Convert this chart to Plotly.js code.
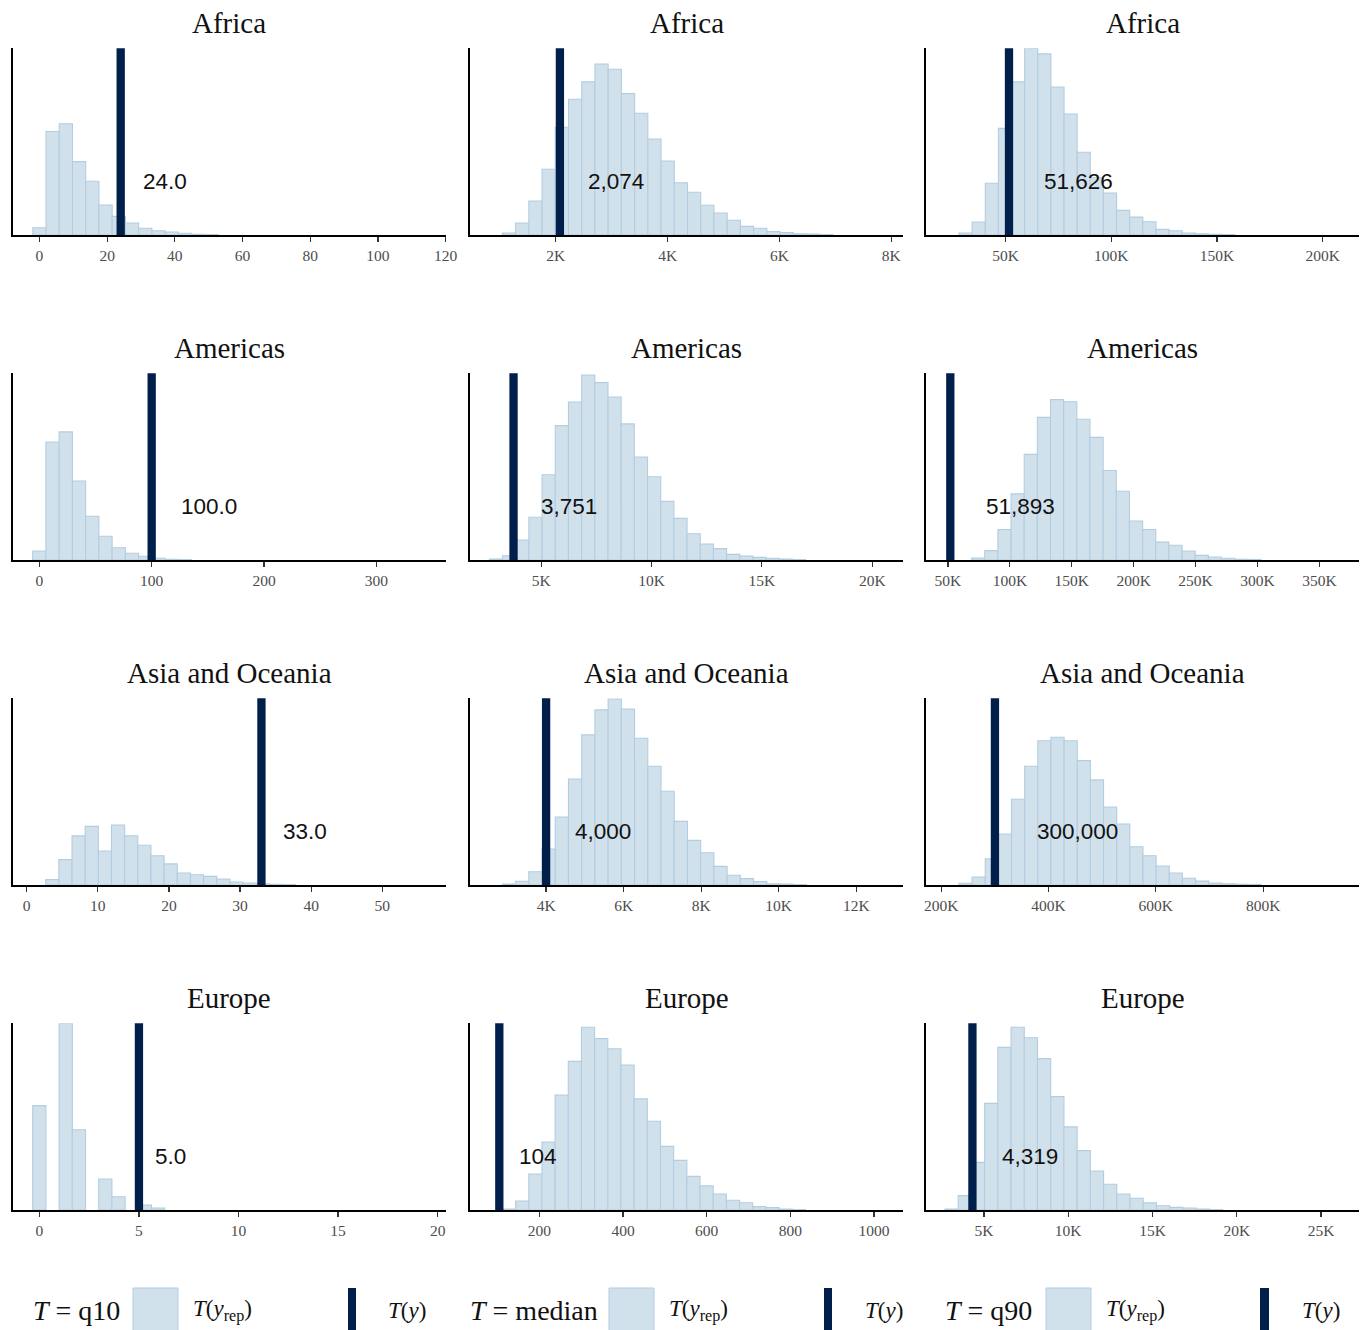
<!DOCTYPE html>
<html>
<head>
<meta charset="utf-8">
<script src="https://cdn.plot.ly/plotly-3.0.1.min.js"></script>
<style>html,body{margin:0;padding:0;background:#fff;}</style>
</head>
<body>
<div id="chart" style="width:1366px;height:1330px;"></div>
<script>
// ---------------- DATA ----------------
const regions = ["Africa", "Americas", "Asia and Oceania", "Europe"];
const statistics = ["q10", "median", "q90"];

// observed statistic T(y) per panel (row-major: region x statistic)
const obsValues = [24, 2074, 51626, 100, 3751, 51893, 33, 4000, 300000, 5, 104, 4319];
const obsLabels = ["24.0", "2,074", "51,626", "100.0", "3,751", "51,893", "33.0", "4,000", "300,000", "5.0", "104", "4,319"];

// histogram bin definitions (start of first bin, bin width), 30 bins each
const binStart = [-1.97, 1045, 27990, -5.93, 2656, 69085, 2.67, 2872, 232887, -0.335, 111.4, 2690];
const binWidth = [3.91, 236.5, 6210, 11.79, 597, 10625, 1.85, 341, 24510, 0.663, 31.5, 784];

// relative bar heights of T(y_rep) (counts, % of the tallest bar scale)
const africaQ10 = [3.9, 55.4, 59.6, 39.3, 28.8, 16.1, 10.0, 6.4, 3.6, 2.3, 1.6, 0.9, 0.4, 0.3, 0, 0, 0, 0, 0, 0, 0, 0, 0, 0, 0, 0, 0, 0, 0, 0];
const africaMedian = [1.1, 6.4, 18.2, 35.2, 57.7, 72.7, 82.0, 91.6, 88.8, 75.7, 65.2, 51.4, 39.6, 28.0, 22.9, 15.9, 11.8, 7.9, 4.6, 3.6, 1.8, 1.25, 0.7, 0.5, 0.3, 0, 0, 0, 0, 0];
const africaQ90 = [1.1, 7.0, 27.7, 57.1, 82.0, 100, 97.0, 79.3, 64.8, 44.3, 30.7, 22.5, 13.2, 9.6, 7.1, 3.0, 2.3, 1.1, 0.7, 0.4, 0.3, 0, 0, 0, 0, 0, 0, 0, 0, 0];
const americasQ10 = [4.8, 63.2, 68.6, 42.3, 23.4, 12.7, 6.6, 3.6, 2.0, 0.9, 0.4, 0.3, 0, 0, 0, 0, 0, 0, 0, 0, 0, 0, 0, 0, 0, 0, 0, 0, 0, 0];
const americasMedian = [0.5, 2.3, 10.7, 22.9, 45.7, 72.0, 84.6, 99.1, 95.0, 87.3, 72.9, 55.2, 44.6, 31.4, 22.3, 14.1, 8.6, 6.1, 3.0, 2.1, 1.4, 0.9, 0.5, 0.3, 0, 0, 0, 0, 0, 0];
const americasQ90 = [1.1, 5.0, 16.3, 35.4, 56.6, 76.4, 85.9, 84.8, 75.4, 65.7, 47.9, 36.8, 20.9, 16.3, 9.6, 7.9, 4.8, 2.5, 1.6, 0.9, 0.4, 0.3, 0, 0, 0, 0, 0, 0, 0, 0];
const asiaQ10 = [2.9, 13.6, 26.3, 31.4, 18.2, 32.1, 26.4, 21.3, 15.7, 11.3, 6.4, 5.5, 4.6, 3.2, 1.6, 1.1, 0.7, 0.4, 0.3, 0, 0, 0, 0, 0, 0, 0, 0, 0, 0, 0];
const asiaMedian = [0.5, 2.0, 7.1, 19.3, 36.4, 56.8, 80.4, 93.8, 99.6, 94.3, 78.6, 63.6, 50.2, 34.1, 23.9, 17.3, 10.0, 5.2, 3.4, 1.8, 0.7, 0.5, 0.3, 0, 0, 0, 0, 0, 0, 0];
const asiaQ90 = [0.9, 4.3, 14.1, 27.3, 45.9, 63.6, 77.3, 79.1, 77.3, 66.6, 56.3, 41.8, 32.7, 20.5, 15.7, 10.2, 6.4, 3.6, 2.1, 1.1, 0.7, 0.4, 0.3, 0, 0, 0, 0, 0, 0, 0];
const europeQ10 = [55.9, 0, 100, 43.0, 0, 16.6, 7.1, 0, 2.7, 1.1, 0, 0, 0, 0, 0, 0, 0, 0, 0, 0, 0, 0, 0, 0, 0, 0, 0, 0, 0, 0];
const europeMedian = [0.5, 4.8, 19.3, 36.4, 61.6, 79.6, 97.9, 91.8, 86.4, 77.7, 59.5, 47.5, 34.1, 26.6, 18.0, 12.9, 8.6, 5.2, 3.9, 1.8, 1.25, 0.5, 0.3, 0, 0, 0, 0, 0, 0, 0];
const europeQ90 = [0.5, 7.7, 25.5, 57.1, 87.1, 97.9, 92.3, 81.1, 60.7, 44.5, 31.8, 20.9, 13.8, 8.6, 6.3, 3.8, 2.3, 1.4, 1.1, 0.5, 0.3, 0, 0, 0, 0, 0, 0, 0, 0, 0];

const panelCounts = [africaQ10, africaMedian, africaQ90,
                     americasQ10, americasMedian, americasQ90,
                     asiaQ10, asiaMedian, asiaQ90,
                     europeQ10, europeMedian, europeQ90];

// tick values and labels per panel
const tickValues = [
  [0, 20, 40, 60, 80, 100, 120], [2000, 4000, 6000, 8000], [50000, 100000, 150000, 200000],
  [0, 100, 200, 300], [5000, 10000, 15000, 20000], [50000, 100000, 150000, 200000, 250000, 300000, 350000],
  [0, 10, 20, 30, 40, 50], [4000, 6000, 8000, 10000, 12000], [200000, 400000, 600000, 800000],
  [0, 5, 10, 15, 20], [200, 400, 600, 800, 1000], [5000, 10000, 15000, 20000, 25000]
];
const tickLabels = [
  ["0", "20", "40", "60", "80", "100", "120"], ["2K", "4K", "6K", "8K"], ["50K", "100K", "150K", "200K"],
  ["0", "100", "200", "300"], ["5K", "10K", "15K", "20K"], ["50K", "100K", "150K", "200K", "250K", "300K", "350K"],
  ["0", "10", "20", "30", "40", "50"], ["4K", "6K", "8K", "10K", "12K"], ["200K", "400K", "600K", "800K"],
  ["0", "5", "10", "15", "20"], ["200", "400", "600", "800", "1000"], ["5K", "10K", "15K", "20K", "25K"]
];

// ---------------- LAYOUT CONFIG ----------------
const W = 1366, H = 1330;
const colLeft = [12.7, 470, 926];
const panelW = 433.3;
const rowTop = [48.3, 373.3, 698.3, 1023.3];
const panelH = 186.7;
const xRanges = [
  [-7.9, 120.1], [466, 8215], [12370, 217330],
  [-23.7, 362], [1779, 21405], [32260, 382240],
  [-1.97, 58.95], [2037, 13214], [171457, 979350],
  [-1.34, 20.42], [33.9, 1070], [1565, 27266]
];
const labelXFrac = [0.3515, 0.337, 0.353, 0.453, 0.2285, 0.219, 0.6746, 0.307, 0.3485, 0.365, 0.157, 0.24];

const LIGHT = '#d1e1ec', LIGHT_HL = '#b3cde0', DARK_HL = '#011f4b';
const SERIF = '"Liberation Serif", "Times New Roman", serif';
const SANS = '"Liberation Sans", Arial, sans-serif';

const traces = [];
const layout = {
  width: W, height: H,
  margin: {l: 0, r: 0, t: 0, b: 0, pad: 0},
  paper_bgcolor: '#fff', plot_bgcolor: '#fff',
  showlegend: false,
  shapes: [], annotations: []
};

for (let r = 0; r < 4; r++) {
  for (let c = 0; c < 3; c++) {
    const i = r * 3 + c;
    const n = i + 1;
    const xid = n === 1 ? 'x' : 'x' + n;
    const yid = n === 1 ? 'y' : 'y' + n;
    const counts = panelCounts[i];
    const centers = counts.map((_, k) => binStart[i] + (k + 0.5) * binWidth[i]);
    const outline = counts.map(v => (v > 0 ? 1.1 : 0));
    traces.push({
      type: 'bar', x: centers, y: counts, width: binWidth[i],
      xaxis: xid, yaxis: yid,
      marker: {color: LIGHT, line: {color: LIGHT_HL, width: outline}},
      hoverinfo: 'skip'
    });
    const x0 = colLeft[c] / W, x1 = (colLeft[c] + panelW) / W;
    const y1 = 1 - rowTop[r] / H, y0 = 1 - (rowTop[r] + panelH) / H;
    layout[n === 1 ? 'xaxis' : 'xaxis' + n] = {
      domain: [x0, x1], anchor: yid, range: xRanges[i],
      showgrid: false, zeroline: false,
      showline: true, linecolor: '#000', linewidth: 2,
      ticks: 'outside', ticklen: 5, tickwidth: 1.2, tickcolor: '#333',
      tickmode: 'array', tickvals: tickValues[i], ticktext: tickLabels[i],
      tickfont: {family: SERIF, size: 15.5, color: '#4d4d4d'},
      fixedrange: true
    };
    layout[n === 1 ? 'yaxis' : 'yaxis' + n] = {
      domain: [y0, y1], anchor: xid, range: [0, 100],
      showgrid: false, zeroline: false, showticklabels: false, ticks: '',
      showline: true, linecolor: '#000', linewidth: 2,
      fixedrange: true
    };
    // observed statistic line
    layout.shapes.push({
      type: 'line', xref: xid, yref: yid + ' domain',
      x0: obsValues[i], x1: obsValues[i], y0: 0, y1: 1,
      line: {color: DARK_HL, width: 8.3}
    });
    // value label
    layout.annotations.push({
      xref: xid + ' domain', yref: yid + ' domain',
      x: labelXFrac[i], y: 0.284, xanchor: 'center', yanchor: 'middle',
      text: obsLabels[i], showarrow: false,
      font: {family: SANS, size: 22.5, color: '#111'}
    });
    // panel title
    layout.annotations.push({
      xref: 'paper', yref: 'paper',
      x: (x0 + x1) / 2, y: 1 - (rowTop[r] - 25.5) / H,
      xanchor: 'center', yanchor: 'middle',
      text: regions[r], showarrow: false,
      font: {family: SERIF, size: 29, color: '#111'}
    });
  }
}

// ---------------- bottom legends ----------------
const legendY = 1310;
const legTitleX = [31, 468, 943];
const legSquare = [[133, 178], [609, 654], [1046, 1091]];
const legRepX = [191, 667, 1104];
const legBar = [[348, 356], [824, 832], [1260, 1269]];
const legObsX = [386, 863, 1300];
for (let c = 0; c < 3; c++) {
  layout.annotations.push({
    xref: 'paper', yref: 'paper', x: legTitleX[c] / W, y: 1 - legendY / H,
    xanchor: 'left', yanchor: 'middle', showarrow: false,
    text: '<i>T</i> = ' + statistics[c],
    font: {family: SERIF, size: 28, color: '#111'}
  });
  layout.shapes.push({
    type: 'rect', xref: 'paper', yref: 'paper',
    x0: legSquare[c][0] / W, x1: legSquare[c][1] / W,
    y0: 1 - 1345 / H, y1: 1 - 1288 / H,
    fillcolor: LIGHT, line: {color: LIGHT_HL, width: 1}
  });
  layout.annotations.push({
    xref: 'paper', yref: 'paper', x: legRepX[c] / W, y: 1 - legendY / H,
    xanchor: 'left', yanchor: 'middle', showarrow: false,
    text: '<i>T</i>(<i>y</i><sub>rep</sub>)',
    font: {family: SERIF, size: 23, color: '#111'}
  });
  layout.shapes.push({
    type: 'rect', xref: 'paper', yref: 'paper',
    x0: legBar[c][0] / W, x1: legBar[c][1] / W,
    y0: 1 - 1345 / H, y1: 1 - 1288 / H,
    fillcolor: DARK_HL, line: {width: 0}
  });
  layout.annotations.push({
    xref: 'paper', yref: 'paper', x: legObsX[c] / W, y: 1 - legendY / H,
    xanchor: 'left', yanchor: 'middle', showarrow: false,
    text: '<i>T</i>(<i>y</i>)',
    font: {family: SERIF, size: 23, color: '#111'}
  });
}

Plotly.newPlot('chart', traces, layout, {displayModeBar: false, staticPlot: true});
</script>
</body>
</html>
